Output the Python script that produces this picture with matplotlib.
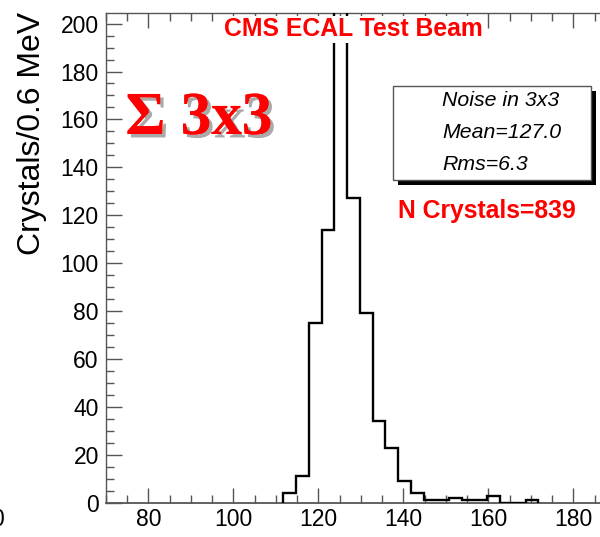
import matplotlib
matplotlib.use("Agg")
import matplotlib.pyplot as plt
import matplotlib.patheffects as pe
from matplotlib.patches import Rectangle
from matplotlib.ticker import MultipleLocator
import numpy as np

# ---- data ----
bin_start = 111.8
bin_width = 3.0
counts = [4, 11, 75, 114, 349, 127, 79, 34, 23, 9, 4, 1, 1, 2, 1, 1, 3, 0, 0, 1]
x_range = (70, 190)
y_range = (0, 204.3)
title = "CMS ECAL Test Beam"
ylabel = "Crystals/0.6 MeV"
stats_lines = ["Noise in 3x3", "Mean=127.0", "Rms=6.3"]
n_label = "N Crystals=839"
big_label = "\u03a3 3x3"

edges = bin_start + bin_width * np.arange(len(counts) + 1)

W, H = 600, 537
fig = plt.figure(figsize=(W / 100, H / 100), dpi=100)
plt.rcParams['font.family'] = ['Liberation Sans', 'DejaVu Sans']

def fx(px):
    return px / W

def fy(py):
    return (H - py) / H

left_px, bottom_px, top_px = 105.8, 502.7, 13.3
px_per_unit = 4.25
right_px = left_px + (x_range[1] - x_range[0]) * px_per_unit
ax = fig.add_axes([fx(left_px), fy(bottom_px), (right_px - left_px) / W, (bottom_px - top_px) / H])

ax.stairs(counts, edges, baseline=0, fill=False, color='black', lw=1.7, zorder=3)
ax.set_xlim(*x_range)
ax.set_ylim(*y_range)

axis_col = '#555555'
for s in ax.spines.values():
    s.set_color(axis_col)
    s.set_linewidth(1.0)
ax.spines['bottom'].set_linewidth(1.3)

ax.xaxis.set_major_locator(MultipleLocator(20))
ax.xaxis.set_minor_locator(MultipleLocator(5))
ax.yaxis.set_major_locator(MultipleLocator(20))
ax.yaxis.set_minor_locator(MultipleLocator(5))
ax.tick_params(which='both', direction='in', top=True, right=True, color=axis_col, width=1.0)
ax.tick_params(which='major', length=11, labelsize=16.5)
ax.tick_params(which='minor', length=5.5)
ax.tick_params(axis='y', which='major', length=11.5, pad=5)
ax.tick_params(axis='x', which='major', pad=4)

fig.text(fx(32), fy(133), ylabel, rotation=90, ha='center', va='center', fontsize=23)

# title with white background
ax.text(fx(353), fy(29.5), title, transform=fig.transFigure, ha='center', va='center',
        fontsize=17.8, fontweight='bold', color='#ff0000', zorder=5,
        bbox=dict(facecolor='white', edgecolor='none', pad=1.0))

# big sigma label with shadow
fig.text(fx(199), fy(119), big_label, ha='center', va='center', fontsize=44,
         fontweight='bold', color='#ff0000', family=['Liberation Serif', 'DejaVu Serif'],
         path_effects=[pe.withSimplePatchShadow(offset=(2.5, -2.5), shadow_rgbFace='#aaaaaa', alpha=1.0),
                       pe.Normal()])

# stats box with shadow
bx0, by0, bx1, by1 = 393, 86, 591, 180
shadow = Rectangle((fx(bx0 + 5), fy(by1 + 5)), (bx1 - bx0) / W, (by1 - by0) / H,
                   transform=fig.transFigure, facecolor='black', edgecolor='none', zorder=6)
box = Rectangle((fx(bx0), fy(by1)), (bx1 - bx0) / W, (by1 - by0) / H,
                transform=fig.transFigure, facecolor='white', edgecolor='#555555', lw=1.0, zorder=7)
fig.add_artist(shadow)
fig.add_artist(box)
for i, line in enumerate(stats_lines):
    fig.text(fx(442), fy(101 + 32 * i), line, ha='left', va='center', fontsize=15.3,
             style='italic', color='black', zorder=8)

fig.text(fx(398), fy(211), n_label, ha='left', va='center', fontsize=17.8,
         fontweight='bold', color='#ff0000')

# partially visible label from a neighbouring panel (cut off in the reference too)
fig.text(fx(4), fy(520), "0", ha='right', va='center', fontsize=16.5)

fig.savefig("out.png", dpi=100)
